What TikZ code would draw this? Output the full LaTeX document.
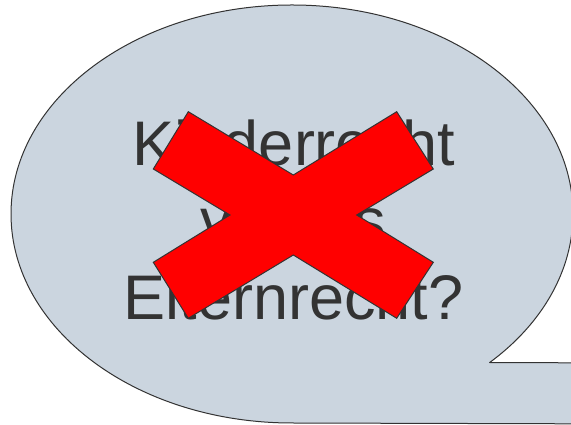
\documentclass[tikz,border=0pt]{standalone}
\usepackage{fontspec}
\setmainfont{Liberation Sans}
\usepackage{tikz}
\definecolor{bubblefill}{HTML}{CBD5DF}
\definecolor{inkgrey}{HTML}{333333}
\definecolor{crossred}{HTML}{FF0000}

\begin{document}
\begin{tikzpicture}[
  x=1pt, y=1pt,
  bubble/.style={draw=inkgrey, fill=bubblefill, line width=1pt, line join=round},
  cross/.style={draw=inkgrey, fill=crossred, line width=1pt, line join=miter},
  word/.style={anchor=base, inner sep=0pt, text=inkgrey, font=\fontsize{63}{77}\selectfont}
]
\useasboundingbox (0,0) rectangle (571,425);
\clip (0,0) rectangle (571,425);
% speech bubble with its tail running off to the right
\path[bubble] (292,2) arc[start angle=-90, end angle=-405.3, x radius=281, y radius=209]
  -- (640,62) -- (640,1) -- cycle;
% the question
\node[word] (kind) at (294,259) {Kinderrecht};
\node[word] (vs) at (293,182) {versus};
\node[word] (eltern) at (293.5,105) {Elternrecht?};
% big red cross on top
\path[cross] (188.3,313.3) -- (293.3,250) -- (396.7,313.3) -- (433.3,256)
  -- (356.7,210) -- (433.3,162.7) -- (396.7,106.7) -- (293.3,170)
  -- (188.3,106.7) -- (153.3,162.7) -- (230,210) -- (153.3,256) -- cycle;
\end{tikzpicture}
\end{document}
